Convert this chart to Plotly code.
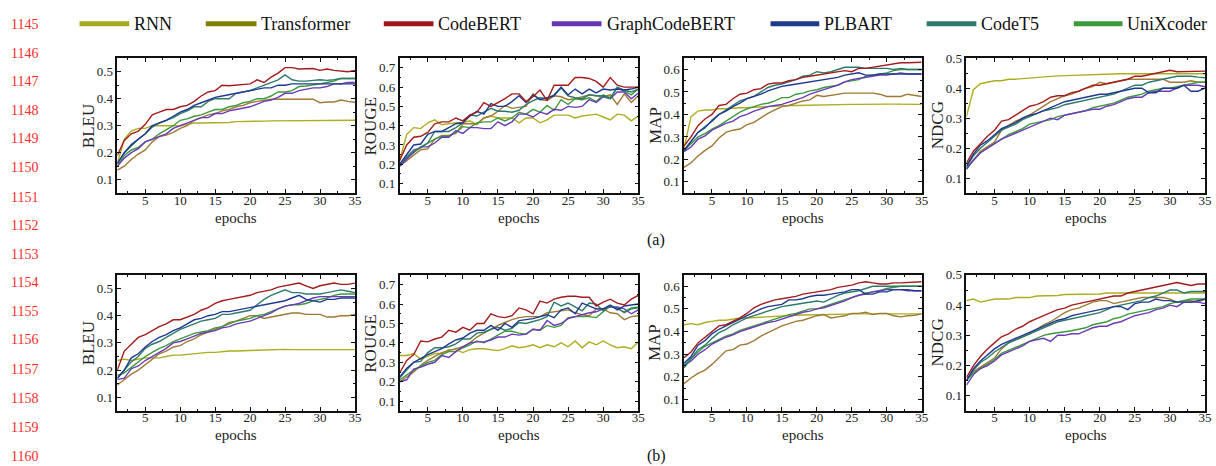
import plotly.graph_objects as go

epochs = list(range(1, 36))
models = ["RNN", "Transformer", "CodeBERT", "GraphCodeBERT", "PLBART", "CodeT5", "UniXcoder"]
metrics = ["BLEU", "ROUGE", "MAP", "NDCG"]

# ---------------- (a) ----------------
a_bleu = {
    "RNN": [0.16,0.25,0.28,0.29,0.29,0.30,0.30,0.30,0.30,0.30,0.305,0.31,0.31,0.31,0.31,0.312,0.312,0.315,0.315,0.315,0.316,0.317,0.318,0.318,0.318,0.319,0.32,0.319,0.32,0.32,0.32,0.32,0.32,0.32,0.32],
    "Transformer": [0.135,0.15,0.175,0.195,0.21,0.24,0.26,0.265,0.275,0.29,0.30,0.32,0.33,0.34,0.345,0.355,0.36,0.37,0.375,0.385,0.39,0.395,0.398,0.398,0.398,0.398,0.40,0.40,0.398,0.385,0.388,0.388,0.395,0.39,0.387],
    "CodeBERT": [0.19,0.245,0.27,0.28,0.305,0.34,0.35,0.36,0.36,0.37,0.375,0.39,0.41,0.425,0.43,0.45,0.448,0.45,0.452,0.455,0.47,0.46,0.48,0.495,0.515,0.515,0.51,0.51,0.512,0.505,0.51,0.505,0.502,0.50,0.505],
    "GraphCodeBERT": [0.15,0.18,0.20,0.215,0.24,0.25,0.26,0.27,0.29,0.30,0.31,0.32,0.33,0.33,0.345,0.345,0.355,0.36,0.365,0.37,0.38,0.39,0.395,0.405,0.42,0.42,0.43,0.435,0.44,0.44,0.445,0.455,0.455,0.46,0.46],
    "PLBART": [0.16,0.20,0.23,0.25,0.27,0.30,0.31,0.32,0.335,0.35,0.36,0.375,0.385,0.395,0.405,0.41,0.415,0.42,0.425,0.43,0.435,0.44,0.44,0.45,0.45,0.455,0.455,0.455,0.455,0.455,0.455,0.455,0.455,0.455,0.455],
    "CodeT5": [0.16,0.20,0.225,0.25,0.27,0.295,0.31,0.32,0.33,0.345,0.355,0.37,0.37,0.39,0.40,0.40,0.40,0.42,0.425,0.43,0.44,0.45,0.46,0.47,0.488,0.47,0.465,0.465,0.468,0.47,0.468,0.47,0.475,0.475,0.475],
    "UniXcoder": [0.15,0.19,0.21,0.22,0.24,0.25,0.27,0.285,0.30,0.32,0.325,0.335,0.34,0.35,0.36,0.36,0.37,0.375,0.385,0.39,0.40,0.40,0.41,0.425,0.425,0.43,0.445,0.447,0.45,0.455,0.46,0.465,0.475,0.475,0.475],
}
a_rouge = {
    "RNN": [0.22,0.355,0.39,0.385,0.415,0.43,0.405,0.41,0.415,0.415,0.425,0.405,0.44,0.45,0.44,0.44,0.44,0.415,0.44,0.44,0.415,0.43,0.455,0.455,0.455,0.44,0.45,0.455,0.46,0.445,0.43,0.46,0.455,0.425,0.45],
    "Transformer": [0.19,0.22,0.25,0.275,0.28,0.33,0.35,0.35,0.36,0.41,0.41,0.41,0.44,0.45,0.475,0.505,0.49,0.495,0.50,0.565,0.535,0.53,0.555,0.55,0.535,0.54,0.55,0.56,0.555,0.55,0.56,0.51,0.565,0.52,0.555],
    "CodeBERT": [0.22,0.30,0.34,0.345,0.365,0.41,0.42,0.42,0.44,0.425,0.455,0.47,0.52,0.50,0.52,0.54,0.565,0.565,0.525,0.55,0.585,0.53,0.61,0.61,0.61,0.65,0.65,0.645,0.63,0.60,0.65,0.61,0.60,0.60,0.60],
    "GraphCodeBERT": [0.19,0.23,0.265,0.29,0.29,0.31,0.34,0.34,0.375,0.36,0.39,0.39,0.385,0.385,0.42,0.40,0.42,0.46,0.46,0.445,0.47,0.46,0.485,0.48,0.50,0.495,0.50,0.535,0.52,0.55,0.54,0.575,0.575,0.54,0.57],
    "PLBART": [0.20,0.25,0.30,0.305,0.355,0.37,0.37,0.39,0.41,0.415,0.45,0.475,0.46,0.515,0.50,0.50,0.525,0.555,0.52,0.56,0.535,0.545,0.555,0.60,0.56,0.59,0.565,0.59,0.57,0.59,0.585,0.59,0.585,0.59,0.60],
    "CodeT5": [0.20,0.24,0.275,0.285,0.31,0.37,0.37,0.37,0.39,0.415,0.455,0.45,0.47,0.49,0.475,0.475,0.47,0.48,0.51,0.53,0.545,0.54,0.56,0.595,0.555,0.545,0.54,0.56,0.555,0.555,0.54,0.60,0.585,0.575,0.59],
    "UniXcoder": [0.20,0.23,0.265,0.29,0.31,0.33,0.345,0.345,0.365,0.395,0.39,0.415,0.42,0.42,0.44,0.425,0.44,0.47,0.46,0.485,0.47,0.505,0.48,0.535,0.51,0.54,0.535,0.545,0.525,0.56,0.545,0.595,0.58,0.56,0.59],
}
a_map = {
    "RNN": [0.25,0.39,0.415,0.42,0.42,0.425,0.425,0.428,0.43,0.43,0.432,0.435,0.437,0.438,0.44,0.44,0.44,0.441,0.442,0.443,0.443,0.444,0.444,0.445,0.445,0.445,0.446,0.445,0.446,0.446,0.446,0.445,0.445,0.445,0.445],
    "Transformer": [0.165,0.185,0.215,0.24,0.26,0.295,0.32,0.33,0.335,0.355,0.365,0.385,0.405,0.42,0.435,0.44,0.45,0.46,0.465,0.485,0.48,0.485,0.49,0.495,0.495,0.495,0.498,0.495,0.49,0.48,0.48,0.48,0.49,0.485,0.48],
    "CodeBERT": [0.26,0.30,0.35,0.38,0.40,0.44,0.445,0.47,0.49,0.495,0.51,0.515,0.535,0.54,0.54,0.55,0.555,0.565,0.57,0.575,0.58,0.585,0.59,0.595,0.59,0.605,0.605,0.61,0.615,0.62,0.625,0.63,0.63,0.632,0.632],
    "GraphCodeBERT": [0.235,0.255,0.29,0.305,0.33,0.345,0.36,0.37,0.39,0.40,0.415,0.425,0.435,0.44,0.445,0.455,0.465,0.475,0.49,0.50,0.51,0.52,0.53,0.545,0.555,0.56,0.565,0.57,0.575,0.575,0.58,0.585,0.58,0.58,0.58],
    "PLBART": [0.24,0.28,0.32,0.345,0.37,0.40,0.415,0.435,0.45,0.47,0.48,0.49,0.505,0.515,0.525,0.53,0.535,0.54,0.545,0.55,0.555,0.56,0.565,0.575,0.58,0.585,0.575,0.575,0.58,0.58,0.58,0.58,0.58,0.58,0.58],
    "CodeT5": [0.24,0.28,0.32,0.34,0.375,0.40,0.42,0.44,0.46,0.47,0.48,0.50,0.52,0.53,0.535,0.545,0.555,0.57,0.575,0.59,0.585,0.59,0.60,0.61,0.61,0.61,0.605,0.605,0.605,0.605,0.60,0.605,0.60,0.60,0.60],
    "UniXcoder": [0.24,0.27,0.30,0.315,0.335,0.35,0.37,0.39,0.41,0.425,0.435,0.445,0.45,0.46,0.475,0.475,0.49,0.495,0.505,0.51,0.52,0.525,0.53,0.545,0.55,0.555,0.57,0.575,0.58,0.585,0.595,0.60,0.60,0.60,0.60],
}
a_ndcg = {
    "RNN": [0.305,0.395,0.415,0.42,0.425,0.425,0.43,0.43,0.432,0.435,0.437,0.438,0.44,0.441,0.442,0.443,0.444,0.445,0.446,0.447,0.447,0.448,0.448,0.448,0.448,0.448,0.448,0.448,0.448,0.448,0.448,0.448,0.448,0.448,0.448],
    "Transformer": [0.13,0.16,0.19,0.205,0.22,0.26,0.275,0.29,0.30,0.31,0.325,0.34,0.355,0.365,0.375,0.38,0.39,0.40,0.405,0.42,0.415,0.42,0.425,0.43,0.43,0.43,0.43,0.43,0.43,0.42,0.42,0.42,0.425,0.42,0.42],
    "CodeBERT": [0.15,0.19,0.215,0.24,0.26,0.29,0.295,0.31,0.325,0.34,0.345,0.355,0.37,0.375,0.375,0.385,0.39,0.40,0.41,0.41,0.415,0.42,0.425,0.43,0.44,0.44,0.445,0.45,0.455,0.46,0.455,0.455,0.455,0.457,0.457],
    "GraphCodeBERT": [0.13,0.16,0.185,0.20,0.215,0.23,0.24,0.25,0.26,0.27,0.28,0.29,0.30,0.295,0.31,0.315,0.32,0.325,0.33,0.33,0.34,0.345,0.355,0.365,0.37,0.37,0.385,0.39,0.39,0.39,0.40,0.41,0.41,0.41,0.405],
    "PLBART": [0.14,0.18,0.21,0.225,0.245,0.265,0.275,0.285,0.30,0.31,0.315,0.325,0.335,0.345,0.355,0.36,0.365,0.37,0.375,0.38,0.38,0.385,0.39,0.395,0.40,0.40,0.385,0.385,0.40,0.40,0.40,0.41,0.39,0.39,0.40],
    "CodeT5": [0.135,0.175,0.20,0.22,0.24,0.26,0.27,0.28,0.295,0.305,0.315,0.325,0.33,0.335,0.345,0.35,0.355,0.36,0.365,0.37,0.375,0.38,0.39,0.40,0.41,0.41,0.42,0.425,0.43,0.435,0.44,0.44,0.44,0.437,0.435],
    "UniXcoder": [0.13,0.16,0.185,0.20,0.215,0.23,0.245,0.255,0.265,0.28,0.285,0.29,0.295,0.305,0.31,0.315,0.32,0.325,0.335,0.34,0.345,0.35,0.36,0.37,0.375,0.38,0.39,0.395,0.40,0.40,0.405,0.41,0.415,0.42,0.42],
}

# ---------------- (b) ----------------
b_bleu = {
    "RNN": [0.235,0.24,0.235,0.24,0.245,0.245,0.245,0.25,0.255,0.255,0.258,0.26,0.262,0.265,0.265,0.268,0.27,0.27,0.272,0.272,0.273,0.274,0.274,0.275,0.276,0.275,0.275,0.275,0.275,0.275,0.275,0.275,0.275,0.275,0.275],
    "Transformer": [0.145,0.165,0.185,0.20,0.22,0.24,0.26,0.27,0.285,0.29,0.305,0.315,0.33,0.34,0.35,0.36,0.375,0.38,0.39,0.40,0.40,0.39,0.395,0.40,0.405,0.41,0.41,0.405,0.405,0.405,0.395,0.395,0.40,0.40,0.405],
    "CodeBERT": [0.20,0.27,0.295,0.32,0.33,0.345,0.36,0.37,0.385,0.385,0.395,0.405,0.42,0.43,0.445,0.455,0.46,0.465,0.47,0.475,0.485,0.49,0.495,0.505,0.51,0.515,0.52,0.51,0.50,0.51,0.515,0.52,0.515,0.515,0.52],
    "GraphCodeBERT": [0.165,0.17,0.205,0.215,0.235,0.25,0.265,0.28,0.30,0.305,0.315,0.325,0.335,0.34,0.345,0.355,0.36,0.37,0.375,0.38,0.39,0.40,0.41,0.425,0.435,0.44,0.445,0.455,0.465,0.47,0.47,0.47,0.47,0.47,0.47],
    "PLBART": [0.17,0.20,0.245,0.26,0.285,0.305,0.32,0.33,0.345,0.355,0.37,0.385,0.39,0.40,0.405,0.415,0.415,0.42,0.425,0.43,0.435,0.44,0.445,0.45,0.455,0.465,0.475,0.46,0.455,0.45,0.46,0.46,0.465,0.465,0.465],
    "CodeT5": [0.17,0.20,0.23,0.25,0.28,0.295,0.305,0.32,0.335,0.35,0.36,0.37,0.38,0.385,0.39,0.405,0.405,0.41,0.415,0.42,0.44,0.46,0.475,0.485,0.495,0.485,0.485,0.48,0.48,0.48,0.485,0.49,0.495,0.49,0.485],
    "UniXcoder": [0.18,0.19,0.21,0.23,0.25,0.265,0.28,0.29,0.305,0.315,0.325,0.335,0.34,0.345,0.355,0.36,0.37,0.38,0.385,0.39,0.40,0.405,0.415,0.425,0.435,0.44,0.44,0.445,0.455,0.46,0.465,0.475,0.48,0.48,0.48],
}
b_rouge = {
    "RNN": [0.335,0.335,0.345,0.315,0.33,0.345,0.345,0.365,0.365,0.35,0.365,0.37,0.37,0.365,0.36,0.37,0.385,0.375,0.38,0.39,0.375,0.39,0.38,0.40,0.38,0.41,0.375,0.405,0.39,0.41,0.39,0.375,0.38,0.37,0.405],
    "Transformer": [0.20,0.225,0.25,0.285,0.31,0.33,0.35,0.36,0.37,0.38,0.40,0.43,0.45,0.47,0.49,0.505,0.52,0.53,0.535,0.535,0.535,0.555,0.56,0.565,0.57,0.555,0.545,0.54,0.575,0.575,0.555,0.55,0.52,0.535,0.54],
    "CodeBERT": [0.245,0.31,0.34,0.41,0.405,0.42,0.43,0.465,0.455,0.48,0.465,0.50,0.50,0.55,0.535,0.53,0.54,0.58,0.57,0.55,0.615,0.605,0.625,0.635,0.64,0.64,0.635,0.635,0.59,0.61,0.625,0.605,0.595,0.625,0.645],
    "GraphCodeBERT": [0.20,0.21,0.265,0.275,0.29,0.30,0.335,0.325,0.355,0.38,0.40,0.405,0.405,0.415,0.43,0.43,0.445,0.44,0.445,0.47,0.465,0.515,0.49,0.50,0.525,0.535,0.545,0.555,0.56,0.575,0.585,0.585,0.575,0.55,0.57],
    "PLBART": [0.225,0.27,0.30,0.32,0.34,0.355,0.37,0.395,0.415,0.425,0.45,0.465,0.465,0.49,0.465,0.50,0.48,0.515,0.52,0.525,0.535,0.545,0.53,0.57,0.58,0.55,0.605,0.59,0.575,0.575,0.595,0.57,0.59,0.595,0.60],
    "CodeT5": [0.22,0.26,0.30,0.305,0.35,0.375,0.375,0.38,0.395,0.42,0.42,0.45,0.455,0.47,0.48,0.465,0.475,0.505,0.50,0.51,0.52,0.535,0.61,0.59,0.605,0.585,0.565,0.605,0.60,0.565,0.59,0.58,0.555,0.575,0.58],
    "UniXcoder": [0.21,0.235,0.26,0.28,0.30,0.31,0.34,0.355,0.355,0.375,0.39,0.41,0.40,0.42,0.44,0.46,0.46,0.45,0.445,0.47,0.465,0.49,0.48,0.49,0.53,0.535,0.535,0.535,0.53,0.56,0.59,0.575,0.56,0.58,0.585],
}
b_map = {
    "RNN": [0.43,0.435,0.43,0.44,0.445,0.45,0.45,0.455,0.46,0.46,0.462,0.465,0.467,0.468,0.47,0.47,0.472,0.473,0.474,0.475,0.475,0.476,0.476,0.477,0.477,0.478,0.478,0.478,0.478,0.478,0.478,0.478,0.478,0.478,0.478],
    "Transformer": [0.17,0.195,0.215,0.23,0.255,0.285,0.315,0.32,0.34,0.345,0.36,0.38,0.395,0.41,0.425,0.435,0.445,0.45,0.46,0.47,0.475,0.46,0.465,0.47,0.48,0.48,0.485,0.475,0.48,0.48,0.47,0.465,0.47,0.472,0.478],
    "CodeBERT": [0.285,0.31,0.35,0.375,0.40,0.425,0.43,0.445,0.46,0.48,0.505,0.52,0.53,0.54,0.545,0.55,0.555,0.565,0.57,0.575,0.58,0.585,0.595,0.60,0.605,0.615,0.62,0.615,0.61,0.61,0.615,0.615,0.617,0.618,0.62],
    "GraphCodeBERT": [0.25,0.27,0.30,0.32,0.345,0.36,0.375,0.385,0.40,0.41,0.42,0.43,0.44,0.445,0.455,0.465,0.475,0.485,0.49,0.50,0.505,0.515,0.525,0.535,0.55,0.56,0.565,0.575,0.58,0.585,0.585,0.585,0.58,0.58,0.58],
    "PLBART": [0.26,0.29,0.34,0.36,0.39,0.41,0.425,0.44,0.455,0.47,0.485,0.50,0.51,0.515,0.52,0.54,0.54,0.545,0.555,0.56,0.56,0.565,0.57,0.575,0.585,0.585,0.565,0.565,0.575,0.575,0.585,0.585,0.585,0.58,0.58],
    "CodeT5": [0.24,0.28,0.32,0.34,0.37,0.395,0.41,0.43,0.445,0.46,0.47,0.48,0.49,0.50,0.51,0.515,0.52,0.525,0.53,0.535,0.53,0.545,0.56,0.57,0.575,0.58,0.59,0.60,0.60,0.60,0.60,0.60,0.60,0.60,0.60],
    "UniXcoder": [0.25,0.28,0.31,0.335,0.35,0.365,0.38,0.39,0.405,0.415,0.425,0.435,0.445,0.455,0.465,0.475,0.48,0.49,0.50,0.50,0.51,0.52,0.53,0.54,0.55,0.56,0.57,0.575,0.58,0.59,0.595,0.60,0.60,0.60,0.60],
}
b_ndcg = {
    "RNN": [0.415,0.42,0.41,0.415,0.42,0.42,0.42,0.425,0.425,0.425,0.43,0.43,0.43,0.432,0.435,0.435,0.437,0.437,0.437,0.437,0.44,0.44,0.44,0.44,0.44,0.44,0.44,0.44,0.44,0.44,0.44,0.44,0.44,0.44,0.44],
    "Transformer": [0.15,0.18,0.195,0.21,0.225,0.255,0.275,0.285,0.295,0.305,0.32,0.335,0.345,0.36,0.375,0.385,0.39,0.40,0.41,0.415,0.415,0.405,0.41,0.415,0.42,0.425,0.425,0.425,0.425,0.42,0.41,0.415,0.415,0.41,0.42],
    "CodeBERT": [0.16,0.20,0.23,0.255,0.275,0.295,0.305,0.32,0.33,0.345,0.355,0.365,0.375,0.385,0.39,0.40,0.405,0.41,0.415,0.42,0.425,0.43,0.43,0.44,0.445,0.45,0.455,0.46,0.465,0.47,0.475,0.47,0.465,0.47,0.47],
    "GraphCodeBERT": [0.135,0.17,0.19,0.20,0.215,0.235,0.245,0.255,0.265,0.28,0.285,0.29,0.28,0.30,0.30,0.305,0.305,0.315,0.325,0.33,0.33,0.34,0.345,0.355,0.365,0.37,0.375,0.385,0.39,0.40,0.395,0.41,0.41,0.41,0.405],
    "PLBART": [0.15,0.19,0.215,0.235,0.255,0.27,0.28,0.29,0.30,0.31,0.32,0.33,0.34,0.35,0.355,0.365,0.37,0.375,0.38,0.385,0.39,0.395,0.395,0.385,0.405,0.41,0.41,0.42,0.415,0.415,0.41,0.41,0.41,0.415,0.42],
    "CodeT5": [0.15,0.185,0.21,0.225,0.245,0.26,0.275,0.285,0.295,0.305,0.315,0.325,0.335,0.345,0.35,0.355,0.36,0.365,0.37,0.375,0.385,0.395,0.40,0.405,0.41,0.415,0.425,0.43,0.44,0.45,0.45,0.44,0.445,0.445,0.445],
    "UniXcoder": [0.15,0.175,0.19,0.205,0.22,0.24,0.25,0.26,0.27,0.28,0.29,0.30,0.305,0.308,0.31,0.315,0.32,0.325,0.335,0.34,0.345,0.355,0.36,0.37,0.375,0.38,0.385,0.39,0.395,0.405,0.41,0.415,0.42,0.42,0.42],
}

panels = [a_bleu, a_rouge, a_map, a_ndcg, b_bleu, b_rouge, b_map, b_ndcg]
y_ranges = [[0.05, 0.55], [0.05, 0.75], [0.05, 0.65], [0.05, 0.5]]
x_ticks = [5, 10, 15, 20, 25, 30, 35]

line_colors = {"RNN": "#adad1f", "Transformer": "#9e7a35", "CodeBERT": "#a31c1c",
               "GraphCodeBERT": "#6b3ab8", "PLBART": "#1f3a8f", "CodeT5": "#2e7a6c",
               "UniXcoder": "#3c9a3a"}
legend_colors = {"RNN": "#a8a820", "Transformer": "#808000", "CodeBERT": "#a01818",
                 "GraphCodeBERT": "#6a35b5", "PLBART": "#1f3a8a", "CodeT5": "#2f7a6a",
                 "UniXcoder": "#3c9a3a"}
draw_order = ["RNN", "Transformer", "UniXcoder", "GraphCodeBERT", "CodeT5", "PLBART", "CodeBERT"]

W, H = 1216, 466
px_x = [(118, 357), (402, 642), (688, 927), (972, 1212)]
px_y = [(52, 189), (272, 410)]

SERIF = "Liberation Serif"
fig = go.Figure()
layout = dict(width=W, height=H, margin=dict(l=0, r=0, t=0, b=0),
              paper_bgcolor="white", plot_bgcolor="white", showlegend=False,
              font=dict(family=SERIF, color="#222"))
annotations = []

for i, data in enumerate(panels):
    row, col = divmod(i, 4)
    n = i + 1
    xa = "x" if n == 1 else f"x{n}"
    ya = "y" if n == 1 else f"y{n}"
    for m in draw_order:
        fig.add_trace(go.Scatter(x=epochs, y=data[m], mode="lines", name=m,
                                 line=dict(color=line_colors[m], width=1.4),
                                 xaxis=xa, yaxis=ya))
    x0, x1 = px_x[col]
    y0, y1 = px_y[row]
    common = dict(showline=True, linecolor="#111", linewidth=1.5, mirror="ticks",
                  ticks="inside", ticklen=4, tickwidth=1.2, tickcolor="#111",
                  showgrid=False, zeroline=False,
                  tickfont=dict(family=SERIF, size=13, color="#222"))
    layout[f"xaxis{n}"] = dict(domain=[x0 / W, x1 / W], anchor=ya, range=[1, 35],
                               tickvals=x_ticks, ticktext=[str(t) for t in x_ticks],
                               ticklabelstandoff=-6,
                               minor=dict(ticks="inside", ticklen=2, tickcolor="#111", dtick=2.5, tick0=0),
                               **common)
    yr = y_ranges[col]
    layout[f"yaxis{n}"] = dict(domain=[1 - y1 / H, 1 - y0 / H], anchor=xa, range=yr,
                               dtick=0.1, tick0=0.1, tickformat=".1f",
                               minor=dict(ticks="inside", ticklen=2, tickcolor="#111", dtick=0.05, tick0=0.05),
                               **common)
    # axis titles
    annotations.append(dict(xref="paper", yref="paper", x=(x0 + x1) / 2 / W, y=1 - (y1 + 25) / H,
                            text="epochs", showarrow=False, xanchor="center", yanchor="middle",
                            font=dict(family=SERIF, size=15, color="#222")))
    annotations.append(dict(xref="paper", yref="paper", x=(x0 - 29) / W, y=1 - (y0 + y1) / 2 / H,
                            text=metrics[col], showarrow=False, textangle=-90,
                            xanchor="center", yanchor="middle",
                            font=dict(family=SERIF, size=17, color="#222")))

shapes = []
# legend drawn across the top
legend_pos = {"RNN": (80, 130), "Transformer": (207, 258), "CodeBERT": (386, 436),
              "GraphCodeBERT": (555, 605), "PLBART": (775, 824), "CodeT5": (932, 982),
              "UniXcoder": (1080, 1129)}
ly = 1 - 17 / H
for m in models:
    a, b = legend_pos[m]
    shapes.append(dict(type="line", xref="paper", yref="paper", x0=a / W, x1=b / W, y0=ly, y1=ly,
                       line=dict(color=legend_colors[m], width=5)))
    annotations.append(dict(xref="paper", yref="paper", x=(b + 3) / W, y=ly, text=m, showarrow=False,
                            xanchor="left", yanchor="middle",
                            font=dict(family=SERIF, size=18, color="#111")))

# page line numbers
line_nums = list(range(1145, 1161))
line_y = [18, 47, 76, 105, 134, 163, 193, 222, 251, 280, 309, 338, 368, 397, 427, 456]
for num, yy in zip(line_nums, line_y):
    annotations.append(dict(xref="paper", yref="paper", x=25 / W, y=1 - yy / H, text=str(num),
                            showarrow=False, xanchor="center", yanchor="middle",
                            font=dict(family=SERIF, size=14, color="#ff2a2a")))

for lab, yy in [("(a)", 237), ("(b)", 456)]:
    annotations.append(dict(xref="paper", yref="paper", x=660 / W, y=1 - yy / H, text=lab,
                            showarrow=False, xanchor="center", yanchor="middle",
                            font=dict(family=SERIF, size=16, color="#111")))

layout["shapes"] = shapes
layout["annotations"] = annotations
fig.update_layout(**layout)
fig.write_html("out.html")
